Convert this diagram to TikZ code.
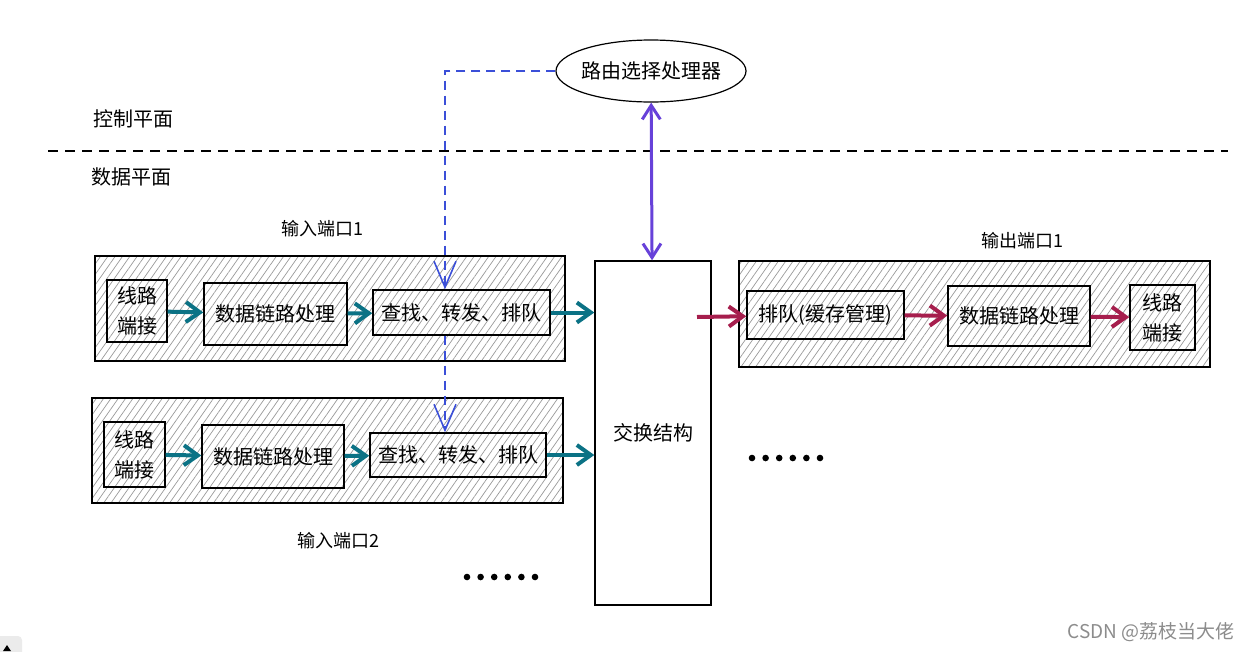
\documentclass[tikz,border=0pt]{standalone}
\usepackage{fontspec}
\setmainfont{Noto Sans CJK SC}
\usetikzlibrary{arrows.meta,patterns.meta,shapes.geometric}
\definecolor{tealflow}{HTML}{0B7285}
\definecolor{pinkflow}{HTML}{A61E4D}
\definecolor{violetlink}{HTML}{6741D9}
\definecolor{bluectrl}{HTML}{3B4FD8}
\begin{document}
\begin{tikzpicture}[x=1pt, y=-1pt,
  every node/.style={font=\fontsize{20}{24}\selectfont},
  port/.style={rectangle, draw, line width=1.4pt, inner sep=0pt,
    pattern={Lines[angle=55,distance=6pt,line width=0.7pt]}, pattern color=black!40},
  unit/.style={rectangle, draw, line width=1.4pt, inner sep=0pt},
  twoline/.style={align=center, font=\fontsize{20}{30}\selectfont},
  tag/.style={font=\fontsize{18}{21}\selectfont},
  inflow/.style={-{Straight Barb[length=14pt,width=20pt]}, line width=4pt, tealflow},
  outflow/.style={-{Straight Barb[length=14pt,width=20pt]}, line width=4pt, pinkflow},
  duplex/.style={{Straight Barb[length=14pt,width=18pt]}-{Straight Barb[length=14pt,width=18pt]}, line width=3pt, violetlink},
  ctrl/.style={-{Straight Barb[length=26pt,width=22pt]}, line width=1.6pt, bluectrl, dash pattern=on 9pt off 6pt}]
  \useasboundingbox (0,0) rectangle (1252,651);
  % Planes
  \node (router) [ellipse, draw, line width=1.2pt, inner xsep=-10pt, inner ysep=0pt, minimum width=190pt, minimum height=62pt] at (651,71) {路由选择处理器};
  \node (ctrl-plane) at (133,119) {控制平面};
  \node (data-plane) at (131,177) {数据平面};
  \draw[line width=2pt, dash pattern=on 10pt off 7pt] (48,151) -- (1228,151);
  % Input port 1
  \node (in1) [port, minimum width=470pt, minimum height=105pt] at (330,308.5) {};
  \node (in1-line) [unit, twoline, minimum width=60pt, minimum height=62pt] at (137,311) {线路\\端接};
  \node (in1-link) [unit, minimum width=143pt, minimum height=62pt] at (275.5,314) {数据链路处理};
  \node (in1-qf) [unit, minimum width=177pt, minimum height=45pt] at (461.5,312.5) {查找、转发、排队};
  \node (in1-tag) [tag] at (322,229) {输入端口1};
  % Input port 2
  \node (in2) [port, minimum width=471pt, minimum height=105pt] at (327.5,450.5) {};
  \node (in2-line) [unit, twoline, minimum width=61pt, minimum height=65pt] at (134.5,454.5) {线路\\端接};
  \node (in2-link) [unit, minimum width=142pt, minimum height=63pt] at (273,456.5) {数据链路处理};
  \node (in2-qf) [unit, minimum width=176pt, minimum height=44pt] at (458,455) {查找、转发、排队};
  \node (in2-tag) [tag] at (338,541) {输入端口2};
  % Switch fabric
  \node (fabric) [unit, minimum width=116pt, minimum height=344pt] at (653,433) {交换结构};
  % Output port 1
  \node (out1) [port, minimum width=471pt, minimum height=106pt] at (974.5,314) {};
  \node (out1-queue) [unit, minimum width=157pt, minimum height=48pt] at (825.5,315) {排队(缓存管理)};
  \node (out1-link) [unit, minimum width=142pt, minimum height=60pt] at (1019,316) {数据链路处理};
  \node (out1-line) [unit, twoline, minimum width=65pt, minimum height=65pt] at (1162.5,317.5) {线路\\端接};
  \node (out1-tag) [tag] at (1022,241) {输出端口1};
  % More ports
  \foreach \i in {0,...,5} {
    \fill (467+13.6*\i,577) circle (3.3pt);
    \fill (752+13.6*\i,458) circle (3.3pt);
  }
  % Arrow
  \coordinate (bend) at (445,71);
  \draw[ctrl] (router.west) -- (bend) -- (bend |- in1-qf.north);
  \draw[ctrl] (bend |- in1-qf.south) -- (bend |- in2-qf.north);
  \draw[duplex] (router) -- (fabric);
  \draw[inflow] (in1-line) -- (in1-link);
  \draw[inflow] (in1-link) -- (in1-qf);
  \draw[inflow] (in1-qf) -- (in1-qf -| fabric.west);
  \draw[inflow] (in2-line) -- (in2-link);
  \draw[inflow] (in2-link) -- (in2-qf);
  \draw[inflow] (in2-qf) -- (in2-qf -| fabric.west);
  \coordinate (fab-out) at (697,317);
  \draw[outflow] (fab-out) -- (out1-queue);
  \draw[outflow] (out1-queue) -- (out1-link);
  \draw[outflow] (out1-link) -- (out1-line);
  % Watermark
  \node (mark) [text=black!45, font=\fontsize{19}{22}\selectfont] at (1151,632) {CSDN @荔枝当大佬};
  \fill[black!8, rounded corners=4pt] (-10,636) rectangle (22,661);
  \fill (3,651) -- (7,645) -- (11,651) -- cycle;
\end{tikzpicture}
\end{document}
